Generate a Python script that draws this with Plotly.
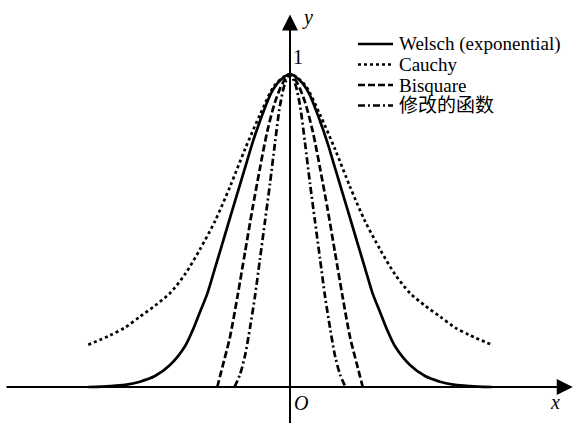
import plotly.graph_objects as go

# ---- data (x in units where 1 unit ~ 75 px; right half, mirrored) ----
welsch_x = [0.0, 0.13, 0.25, 0.4, 0.5, 0.6, 0.7, 0.8, 0.9, 1.0, 1.1, 1.2, 1.3, 1.4, 1.6, 1.8, 2.0, 2.2, 2.4, 2.69]
welsch_y = [1.0, 0.98, 0.94, 0.85, 0.78, 0.70, 0.62, 0.54, 0.46, 0.38, 0.30, 0.24, 0.18, 0.13, 0.07, 0.035, 0.017, 0.007, 0.003, 0.0]

cauchy_x = [0.0, 0.2, 0.4, 0.6, 0.8, 1.0, 1.2, 1.4, 1.6, 1.8, 2.0, 2.2, 2.4, 2.69]
cauchy_y = [1.0, 0.965, 0.87, 0.76, 0.64, 0.53, 0.44, 0.36, 0.30, 0.26, 0.225, 0.19, 0.165, 0.135]

bisq_x = [0.0, 0.1, 0.2, 0.3, 0.4, 0.5, 0.6, 0.7, 0.8, 0.9, 0.97]
bisq_y = [1.0, 0.97, 0.91, 0.82, 0.70, 0.57, 0.43, 0.29, 0.16, 0.065, 0.0]

mod_x = [0.0, 0.067, 0.133, 0.2, 0.267, 0.333, 0.4, 0.467, 0.533, 0.6, 0.667, 0.74]
mod_y = [1.0, 0.97, 0.90, 0.78, 0.65, 0.53, 0.41, 0.29, 0.19, 0.10, 0.04, 0.0]

labels = ["Welsch (exponential)", "Cauchy", "Bisquare", "修改的函数"]
dashes = ["solid", "3px,3px", "7px,3px", "7px,3px,2px,3px"]


def mirror(xs, ys):
    fx = [-v for v in reversed(xs[1:])] + list(xs)
    fy = list(reversed(ys[1:])) + list(ys)
    return fx, fy


series = [(welsch_x, welsch_y), (cauchy_x, cauchy_y), (bisq_x, bisq_y), (mod_x, mod_y)]

fig = go.Figure()
for (xs, ys), name, dash in zip(series, labels, dashes):
    fx, fy = mirror(xs, ys)
    fig.add_trace(go.Scatter(x=fx, y=fy, mode="lines", name=name,
                             line=dict(color="black", width=2.7, dash=dash,
                                       shape="spline", smoothing=0.8),
                             showlegend=False, hoverinfo="skip"))

W, H = 576, 430
X0, Y0, SX, SY = 290, 387, 75.0, 313.0
xr = [(0 - X0) / SX, (W - X0) / SX]
yr = [(Y0 - H) / SY, (Y0 - 0) / SY]

serif = "Liberation Serif, Times New Roman, Noto Sans CJK SC, serif"

ann = []
# axes with arrows
ann.append(dict(x=3.77, y=0, ax=-3.80, ay=0, xref="x", yref="y", axref="x", ayref="y",
                text="", showarrow=True, arrowhead=2, arrowsize=1.6, arrowwidth=2, arrowcolor="black"))
ann.append(dict(x=0, y=1.19, ax=0, ay=-0.12, xref="x", yref="y", axref="x", ayref="y",
                text="", showarrow=True, arrowhead=2, arrowsize=1.6, arrowwidth=2, arrowcolor="black"))
# axis texts
ann.append(dict(x=0.227, y=1.182, xref="x", yref="y", text="<i>y</i>", showarrow=False,
                font=dict(family=serif, size=20, color="black")))
ann.append(dict(x=0.107, y=1.054, xref="x", yref="y", text="1", showarrow=False,
                font=dict(family=serif, size=20, color="black")))
ann.append(dict(x=0.15, y=-0.051, xref="x", yref="y", text="<i>O</i>", showarrow=False,
                font=dict(family=serif, size=20, color="black")))
ann.append(dict(x=3.53, y=-0.048, xref="x", yref="y", text="<i>x</i>", showarrow=False,
                font=dict(family=serif, size=20, color="black")))

# manual legend
shapes = []
leg_py = [44, 64.5, 85, 105.5]
for py, name, dash in zip(leg_py, labels, dashes):
    shapes.append(dict(type="line", xref="paper", yref="paper",
                       x0=358 / W, x1=393 / W, y0=1 - py / H, y1=1 - py / H,
                       line=dict(color="black", width=2.7, dash=dash)))
    ann.append(dict(x=397 / W, y=1 - py / H, xref="paper", yref="paper", text=name,
                    showarrow=False, xanchor="left", yanchor="middle",
                    font=dict(family=serif, size=19, color="black")))

fig.update_layout(
    width=W, height=H,
    margin=dict(l=0, r=0, t=0, b=0),
    paper_bgcolor="white", plot_bgcolor="white",
    xaxis=dict(range=xr, visible=False, fixedrange=True),
    yaxis=dict(range=yr, visible=False, fixedrange=True),
    annotations=ann, shapes=shapes,
    showlegend=False,
)

fig.write_html("out.html", config={"displayModeBar": False, "staticPlot": True},
               post_script="document.body.style.margin='0';document.body.style.overflow='hidden';")
